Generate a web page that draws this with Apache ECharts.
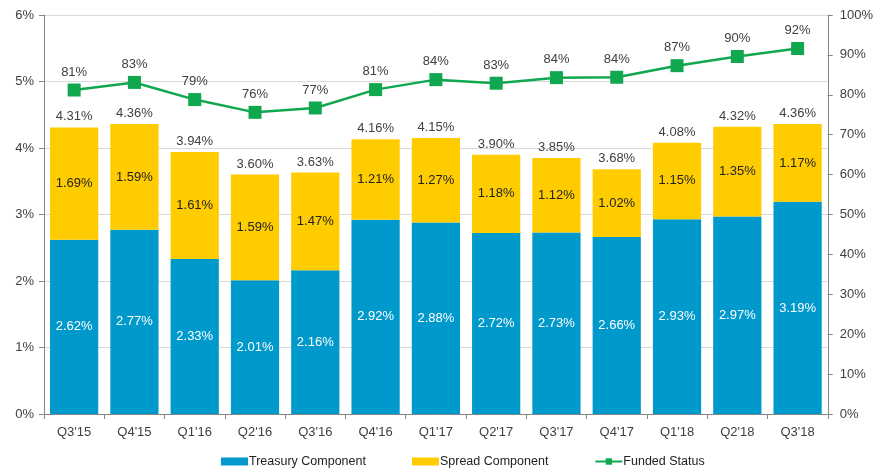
<!DOCTYPE html>
<html>
<head>
<meta charset="utf-8">
<script src="https://cdn.jsdelivr.net/npm/echarts@6/dist/echarts.min.js"></script>
<style>
  html, body { margin: 0; padding: 0; background: #fff; }
  #mychart { width: 876px; height: 471px; }
</style>
</head>
<body>
<div id="mychart"></div>
<script>
// quarters on the x axis
var quarters = ["Q3'15", "Q4'15", "Q1'16", "Q2'16", "Q3'16", "Q4'16", "Q1'17", "Q2'17", "Q3'17", "Q4'17", "Q1'18", "Q2'18", "Q3'18"];
// discount rate components (%)
var treasury = [2.62, 2.77, 2.33, 2.01, 2.16, 2.92, 2.88, 2.72, 2.73, 2.66, 2.93, 2.97, 3.19];
var spread = [1.69, 1.59, 1.61, 1.59, 1.47, 1.21, 1.27, 1.18, 1.12, 1.02, 1.15, 1.35, 1.17];
var totals = [4.31, 4.36, 3.94, 3.60, 3.63, 4.16, 4.15, 3.90, 3.85, 3.68, 4.08, 4.32, 4.36];
// funded status (%)
var funded = [81.2, 83.1, 78.8, 75.6, 76.7, 81.3, 83.8, 82.9, 84.3, 84.4, 87.3, 89.6, 91.6];
var fundedLabels = [81, 83, 79, 76, 77, 81, 84, 83, 84, 84, 87, 90, 92];
var leftTicks = ['0%', '1%', '2%', '3%', '4%', '5%', '6%'];

var txt = '#404040';
var fnt = '"Liberation Sans", Arial, sans-serif';

var mychart = echarts.init(document.getElementById('mychart'));
var option = {
  animation: false,
  textStyle: { fontFamily: fnt, color: txt },
  grid: { left: 44, right: 46, top: 15, bottom: 57 },
  legend: {
    bottom: -2,
    left: 216,
    itemGap: 46,
    itemWidth: 27,
    itemHeight: 8,
    textStyle: { fontFamily: fnt, fontSize: 12.5, color: '#222', padding: [0, 0, 0, -4] },
    data: [
      { name: 'Treasury Component', icon: 'rect' },
      { name: 'Spread Component', icon: 'rect' },
      { name: 'Funded Status' }
    ]
  },
  xAxis: {
    type: 'category',
    data: quarters,
    axisLine: { lineStyle: { color: '#868686' } },
    axisTick: { show: true, length: 5, lineStyle: { color: '#868686' } },
    axisLabel: { color: txt, fontSize: 13, margin: 12, fontFamily: fnt }
  },
  yAxis: [
    {
      type: 'value', min: 0, max: 6, interval: 1,
      axisLine: { show: true, lineStyle: { color: '#868686' } },
      axisTick: { show: true, length: 5, lineStyle: { color: '#868686' } },
      axisLabel: { color: txt, fontSize: 13, margin: 10, fontFamily: fnt,
        formatter: function (v) { return leftTicks[Math.round(v)]; } },
      splitLine: { lineStyle: { color: '#d9d9d9' } }
    },
    {
      type: 'value', min: 0, max: 100, interval: 10,
      axisLine: { show: true, lineStyle: { color: '#868686' } },
      axisTick: { show: true, length: 5, lineStyle: { color: '#868686' } },
      axisLabel: { color: txt, fontSize: 13, margin: 12, fontFamily: fnt, formatter: '{value}%' },
      splitLine: { show: false }
    }
  ],
  series: [
    {
      name: 'Treasury Component',
      type: 'bar',
      stack: 'rate',
      barCategoryGap: '20%',
      itemStyle: { color: '#0099cc' },
      label: {
        show: true, position: 'inside',
        color: '#fff', fontSize: 13, fontFamily: fnt,
        formatter: function (p) { return p.value.toFixed(2) + '%'; }
      },
      data: treasury
    },
    {
      name: 'Spread Component',
      type: 'bar',
      stack: 'rate',
      barCategoryGap: '20%',
      itemStyle: { color: '#ffcc00' },
      label: {
        show: true, position: 'inside',
        color: '#222', fontSize: 13, fontFamily: fnt,
        formatter: function (p) { return p.value.toFixed(2) + '%'; }
      },
      data: spread
    },
    {
      // totals shown above the stacks
      name: 'Total',
      type: 'bar',
      stack: 'rate',
      barCategoryGap: '20%',
      silent: true,
      itemStyle: { color: 'transparent' },
      label: {
        show: true, position: 'insideBottom', distance: 4,
        color: txt, fontSize: 13, fontFamily: fnt,
        formatter: function (p) { return totals[p.dataIndex].toFixed(2) + '%'; }
      },
      data: totals.map(function () { return 0.0001; })
    },
    {
      name: 'Funded Status',
      type: 'line',
      yAxisIndex: 1,
      symbol: 'rect',
      symbolSize: 13,
      itemStyle: { color: '#10a84e' },
      lineStyle: { color: '#10a84e', width: 2.5 },
      label: {
        show: true, position: 'top', distance: 5,
        color: txt, fontSize: 13, fontFamily: fnt,
        formatter: function (p) { return fundedLabels[p.dataIndex] + '%'; }
      },
      data: funded
    }
  ]
};
mychart.setOption(option);
</script>
</body>
</html>
